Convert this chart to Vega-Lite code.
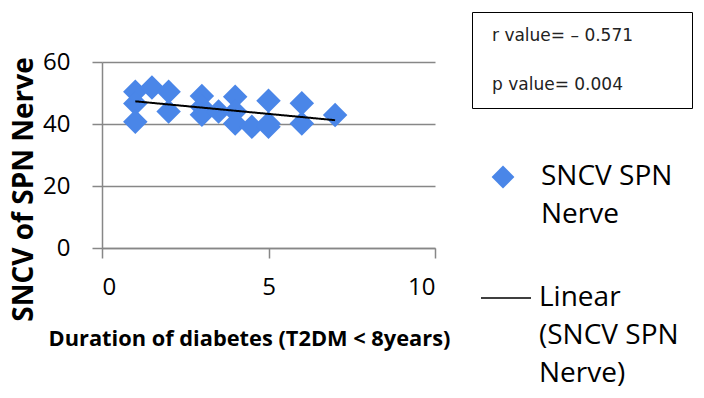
{
  "$schema": "https://vega.github.io/schema/vega-lite/v6.json",
  "width": 333,
  "height": 186,
  "autosize": {"type": "none"},
  "padding": {"left": 102, "top": 62, "right": 269, "bottom": 150},
  "background": "white",
  "config": {
    "view": {"stroke": null},
    "style": {"guide-label": {"lineHeight": 38}},
    "axis": {
      "labelFont": "Open Sans",
      "labelFontSize": 24,
      "labelColor": "#000000",
      "domainColor": "#878787",
      "domainWidth": 1.5,
      "tickColor": "#878787",
      "tickWidth": 1.5,
      "tickSize": 10,
      "gridColor": "#878787",
      "gridWidth": 1.5,
      "titleFont": "Open Sans",
      "titleFontWeight": "bold",
      "titleColor": "#000000"
    }
  },
  "datasets": {
    "points": [
      {"duration": 1, "sncv": 50.4, "series": "SNCV SPN Nerve"},
      {"duration": 1, "sncv": 46.6, "series": "SNCV SPN Nerve"},
      {"duration": 1, "sncv": 40.7, "series": "SNCV SPN Nerve"},
      {"duration": 1.5, "sncv": 51.8, "series": "SNCV SPN Nerve"},
      {"duration": 2, "sncv": 50.4, "series": "SNCV SPN Nerve"},
      {"duration": 2, "sncv": 44, "series": "SNCV SPN Nerve"},
      {"duration": 3, "sncv": 49, "series": "SNCV SPN Nerve"},
      {"duration": 3, "sncv": 45.5, "series": "SNCV SPN Nerve"},
      {"duration": 3, "sncv": 43, "series": "SNCV SPN Nerve"},
      {"duration": 3.5, "sncv": 44, "series": "SNCV SPN Nerve"},
      {"duration": 4, "sncv": 48.8, "series": "SNCV SPN Nerve"},
      {"duration": 4, "sncv": 44, "series": "SNCV SPN Nerve"},
      {"duration": 4, "sncv": 40.2, "series": "SNCV SPN Nerve"},
      {"duration": 4.5, "sncv": 39.1, "series": "SNCV SPN Nerve"},
      {"duration": 5, "sncv": 47.5, "series": "SNCV SPN Nerve"},
      {"duration": 5, "sncv": 40.2, "series": "SNCV SPN Nerve"},
      {"duration": 5, "sncv": 39.1, "series": "SNCV SPN Nerve"},
      {"duration": 6, "sncv": 46.7, "series": "SNCV SPN Nerve"},
      {"duration": 6, "sncv": 40.2, "series": "SNCV SPN Nerve"},
      {"duration": 7, "sncv": 42.9, "series": "SNCV SPN Nerve"}
    ],
    "stats": [
      {"stat": "r value= – 0.571\u00a0\u00a0\u00a0\u00a0\u00a0\u00a0\u00a0\u00a0\u200b", "order": 1},
      {"stat": "p value= 0.004", "order": 2}
    ]
  },
  "layer": [
    {
      "data": {"name": "points"},
      "mark": {"type": "point", "filled": true, "opacity": 1, "size": 600, "color": "#4a86e8"},
      "encoding": {
        "x": {
          "field": "duration", "type": "quantitative",
          "scale": {"domain": [0, 10], "nice": false},
          "axis": {
            "values": [0, 5, 10], "grid": false, "labelPadding": 17,
            "title": "Duration of diabetes (T2DM < 8years)",
            "titleFontSize": 21.8, "titleX": 147, "titleY": 97.5,
            "titleAlign": "center", "titleBaseline": "alphabetic"
          }
        },
        "y": {
          "field": "sncv", "type": "quantitative",
          "scale": {"domain": [0, 60], "nice": false},
          "axis": {
            "values": [0, 20, 40, 60], "grid": true, "labelPadding": 22,
            "title": "SNCV of SPN Nerve",
            "titleFontSize": 28, "titleX": -70, "titleY": 127,
            "titleAngle": -90, "titleAlign": "center", "titleBaseline": "alphabetic"
          }
        },
        "shape": {
          "field": "series", "type": "nominal",
          "scale": {"domain": ["SNCV SPN Nerve"], "range": ["diamond"]},
          "legend": {
            "orient": "none", "legendX": 387, "legendY": 101, "title": null,
            "padding": 0, "symbolSize": 520,
            "symbolFillColor": "#4a86e8", "symbolStrokeColor": "#4a86e8", "symbolStrokeWidth": 0,
            "labelFont": "Open Sans", "labelFontSize": 28, "labelColor": "#000000",
            "labelLimit": 400, "labelOffset": 24, "labelBaseline": "middle",
            "labelExpr": "['SNCV SPN', 'Nerve']"
          }
        }
      }
    },
    {
      "data": {"name": "points"},
      "transform": [{"regression": "sncv", "on": "duration"}],
      "mark": {"type": "line", "color": "#000000", "strokeWidth": 2},
      "encoding": {
        "x": {"field": "duration", "type": "quantitative"},
        "y": {"field": "sncv", "type": "quantitative"},
        "strokeDash": {
          "datum": "Linear (SNCV SPN Nerve)",
          "scale": {"range": [[1, 0]]},
          "legend": {
            "orient": "none", "legendX": 378, "legendY": 210, "title": null,
            "padding": 0, "symbolType": "stroke", "symbolSize": 2500,
            "symbolStrokeColor": "#000000", "symbolStrokeWidth": 1.5,
            "labelFont": "Open Sans", "labelFontSize": 28, "labelColor": "#000000",
            "labelLimit": 400, "labelOffset": 7, "labelBaseline": "middle",
            "labelExpr": "['Linear', '(SNCV SPN', 'Nerve)']"
          }
        }
      }
    },
    {
      "data": {"name": "stats"},
      "mark": {"type": "point", "opacity": 0},
      "encoding": {
        "stroke": {
          "field": "stat", "type": "nominal", "sort": {"field": "order"},
          "scale": {"range": ["transparent", "transparent"]},
          "legend": {
            "orient": "none", "legendX": 370, "legendY": -50, "title": null,
            "padding": 15, "symbolSize": 0, "symbolOpacity": 0,
            "labelOffset": -12, "rowPadding": 31, "labelLimit": 400,
            "labelFont": "DejaVu Sans", "labelFontSize": 17, "labelColor": "#222222",
            "strokeColor": "#000000"
          }
        }
      }
    }
  ]
}
